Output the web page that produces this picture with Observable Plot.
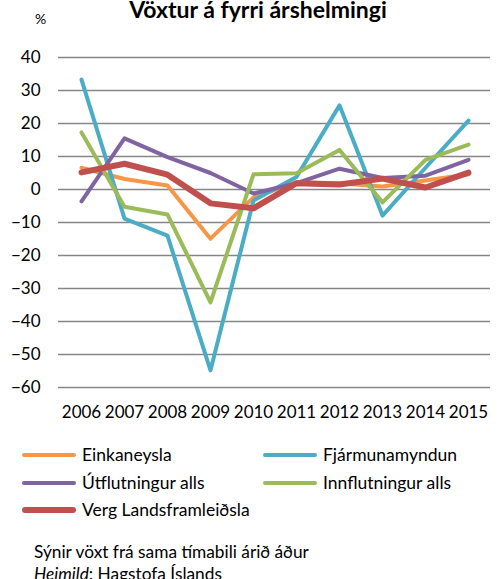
<!DOCTYPE html>
<html><head><meta charset="utf-8">
<script src="https://cdn.jsdelivr.net/npm/d3@7"></script>
<script src="https://cdn.jsdelivr.net/npm/@observablehq/plot@0.6"></script>
<style>
body{margin:0;background:#fff;font-family:Lato,"Noto Sans",sans-serif;color:#000}
#wrap{position:relative;width:499px;height:579px;overflow:hidden}
.abs{position:absolute;white-space:nowrap;line-height:1}
.sw{position:absolute}
</style></head>
<body><div id="wrap"></div>
<script>
const years = ["2006","2007","2008","2009","2010","2011","2012","2013","2014","2015"];
const seriesNames = ["Einkaneysla","Fjármunamyndun","Útflutningur alls","Innflutningur alls","Verg Landsframleiðsla"];
const einkaneysla      = [6.6, 3.2, 1.2, -14.9, -2.4, 2.2, 1.9, 0.9, 2.7, 4.6];
const fjarmunamyndun   = [33.3, -8.8, -14.0, -54.8, -3.3, 3.8, 25.5, -7.9, 6.6, 20.9];
const utflutningur     = [-3.6, 15.5, 9.8, 5.0, -1.2, 1.9, 6.3, 3.5, 4.2, 9.0];
const innflutningur    = [17.3, -5.2, -7.6, -34.2, 4.6, 4.9, 12.0, -3.9, 9.0, 13.6];
const vlf              = [5.2, 7.8, 4.5, -4.2, -5.7, 1.9, 1.5, 3.3, 0.6, 5.1];
const seriesValues = [einkaneysla, fjarmunamyndun, utflutningur, innflutningur, vlf];
const colors = ["#F79646","#4BACC6","#8064A2","#9BBB59","#C0504D"];
const widths = [4,4,4,4,6];
const yTicks = [40,30,20,10,0,-10,-20,-30,-40,-50,-60];

const marks = [
  Plot.gridY(yTicks, {stroke:"#868686", strokeOpacity:1, strokeWidth:1.5}),
  Plot.axisY(yTicks, {tickSize:0, tickPadding:18, fontSize:17}),
  Plot.axisX({tickSize:0, tickPadding:18, fontSize:17})
];
seriesNames.forEach((name,i)=>{
  const rows = years.map((y,j)=>({year:y, value:seriesValues[i][j]}));
  marks.push(Plot.line(rows,{x:"year", y:"value", stroke:colors[i], strokeWidth:widths[i], strokeLinejoin:"round", strokeLinecap:"round"}));
});

const chart = Plot.plot({
  width:499, height:430,
  marginTop:57, marginBottom:43, marginLeft:58, marginRight:9,
  style:{fontFamily:"Lato, 'Noto Sans', sans-serif", fontSize:"17px", color:"#000", background:"transparent"},
  x:{type:"point", domain:years, padding:0.5, label:null},
  y:{domain:[-60,40], label:null},
  marks
});
chart.style.position="absolute"; chart.style.left="0"; chart.style.top="0";
const wrap = document.getElementById("wrap");
wrap.appendChild(chart);

function addText(txt, x, y, size, extra){
  const d=document.createElement("div"); d.className="abs";
  d.style.left=x+"px"; d.style.top=y+"px"; d.style.fontSize=size+"px";
  if(extra) Object.assign(d.style, extra);
  d.innerHTML=txt; wrap.appendChild(d); return d;
}
addText("Vöxtur á fyrri árshelmingi", 0, -2, 23, {width:"516px", textAlign:"center", fontWeight:"bold"});
addText("%", 35, 12, 14);

const legendPos = [[22,455],[263,455],[22,483],[263,483],[22,510]];
seriesNames.forEach((name,i)=>{
  const [x,y]=legendPos[i];
  const s=document.createElement("div"); s.className="sw";
  s.style.left=x+"px"; s.style.width="54px"; s.style.top=(y-widths[i]/2)+"px";
  s.style.height=widths[i]+"px"; s.style.background=colors[i]; s.style.borderRadius=(widths[i]/2)+"px";
  wrap.appendChild(s);
  addText(name, x+60, y-9, 17.5);
});
addText("Sýnir vöxt frá sama tímabili árið áður", 34, 543, 17.3);
addText("<i>Heimild</i>: Hagstofa Íslands", 34, 565, 17.3);
</script></body></html>
